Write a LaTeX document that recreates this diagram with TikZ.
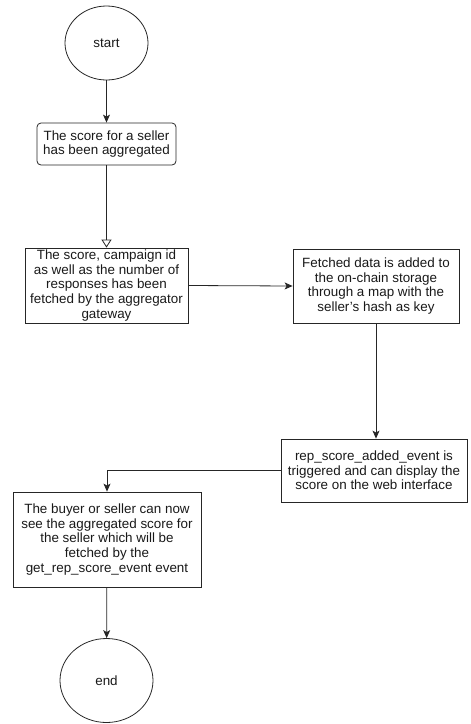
\documentclass[tikz,border=0pt]{standalone}
\usepackage{fontspec}
\setmainfont{Liberation Sans}
\usetikzlibrary{shapes.geometric,arrows.meta}
\begin{document}
\begin{tikzpicture}[x=1pt,y=-1pt,
  every node/.style={font=\fontsize{13.4}{14.6}\selectfont, align=center, inner sep=1pt, text=black!90},
  term/.style={draw=black!85, line width=0.8pt, ellipse},
  box/.style={draw=black!85, line width=0.8pt, rectangle},
  rbox/.style={box, rounded corners=4pt},
  conn/.style={draw=black!85, line width=0.8pt, -{Stealth[length=8pt,width=7pt,inset=2pt]}},
  openconn/.style={draw=black!85, line width=0.8pt, -{Triangle[open,length=8pt,width=10pt,fill=white]}}
]
\useasboundingbox (0,0) rectangle (471,724);
\node[term, minimum width=83pt, minimum height=74pt] (start) at (106.5,43) {start};
\node[rbox, minimum width=139pt, minimum height=42pt] (b1) at (106.5,144) {The score for a seller\\has been aggregated};
\node[box, minimum width=163pt, minimum height=75pt] (b2) at (106.5,285.5) {The score, campaign id\\as well as the number of\\responses has been\\fetched by the aggregator\\gateway};
\node[box, minimum width=166pt, minimum height=74pt] (b3) at (376,286) {Fetched data is added to\\the on-chain storage\\through a map with the\\seller\symbol{39}s hash as key};
\node[box, minimum width=186pt, minimum height=63pt] (b4) at (374,470.5) {rep\_score\_added\_event is\\triggered and can display the\\score on the web interface};
\node[box, minimum width=188pt, minimum height=95pt] (b5) at (107,539.5) {The buyer or seller can now\\see the aggregated score for\\the seller which will be\\fetched by the\\get\_rep\_score\_event event};
\node[term, minimum width=93pt, minimum height=84pt] (end) at (106.5,680.5) {end};
\draw[conn] (start) -- (b1);
\draw[openconn] (b1) -- (b2);
\draw[conn] (b2.east) -- (b3.west);
\draw[conn] (b3.south) -- (b3.south |- b4.north);
\draw[conn] (b4.west) -| (b5.north);
\draw[conn] (b5) -- (end);
\end{tikzpicture}
\end{document}
